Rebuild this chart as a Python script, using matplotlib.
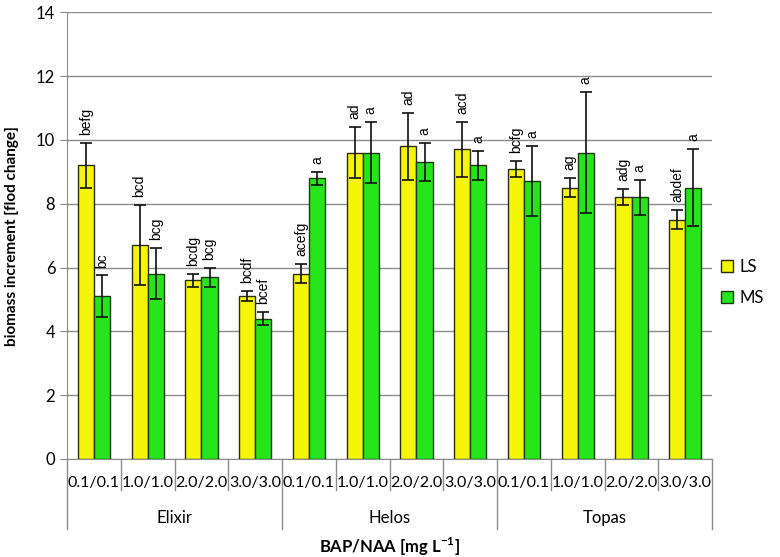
import matplotlib
matplotlib.use("Agg")
import matplotlib.pyplot as plt
import numpy as np
from matplotlib.patches import Patch

cultivars = ["Elixir", "Helos", "Topas"]
doses = ["0.1/0.1", "1.0/1.0", "2.0/2.0", "3.0/3.0"]

ls_vals = [9.2, 6.7, 5.6, 5.1, 5.8, 9.6, 9.8, 9.7, 9.1, 8.5, 8.2, 7.5]
ls_err = [0.7, 1.25, 0.2, 0.15, 0.3, 0.8, 1.05, 0.85, 0.25, 0.3, 0.25, 0.3]
ms_vals = [5.1, 5.8, 5.7, 4.4, 8.8, 9.6, 9.3, 9.2, 8.7, 9.6, 8.2, 8.5]
ms_err = [0.65, 0.8, 0.3, 0.2, 0.2, 0.95, 0.6, 0.45, 1.1, 1.9, 0.55, 1.2]
ls_letters = ["befg", "bcd", "bcdg", "bcdf", "acefg", "ad", "ad", "acd",
              "bcfg", "ag", "adg", "abdef"]
ms_letters = ["bc", "bcg", "bcg", "bcef", "a", "a", "a", "a",
              "a", "a", "a", "a"]

yellow = "#f5f50a"
green = "#27e51b"
grid_col = "#8c8c8c"

fig = plt.figure(figsize=(7.8, 5.57), dpi=100)
ax = fig.add_axes([0.086, 0.176, 0.827, 0.802])

x = np.arange(len(ls_vals))
w = 0.3
ax.bar(x - w / 2, ls_vals, w, color=yellow, edgecolor="#2b2b10", linewidth=1.0, zorder=3)
ax.bar(x + w / 2, ms_vals, w, color=green, edgecolor="#1c3a10", linewidth=1.0, zorder=3)
ax.errorbar(x - w / 2, ls_vals, yerr=ls_err, fmt="none", ecolor="#111111",
            elinewidth=1.2, capsize=4, capthick=1.2, zorder=4)
ax.errorbar(x + w / 2, ms_vals, yerr=ms_err, fmt="none", ecolor="#111111",
            elinewidth=1.2, capsize=4, capthick=1.2, zorder=4)

for i in range(len(x)):
    ax.text(x[i] - w / 2, ls_vals[i] + ls_err[i] + 0.25, ls_letters[i], rotation=90,
            ha="center", va="bottom", fontsize=10, family="Liberation Sans", zorder=5)
    ax.text(x[i] + w / 2, ms_vals[i] + ms_err[i] + 0.25, ms_letters[i], rotation=90,
            ha="center", va="bottom", fontsize=10, family="Liberation Sans", zorder=5)

ax.set_xlim(-0.5, len(x) - 0.5)
ax.set_ylim(0, 14)
ax.set_yticks(range(0, 15, 2))
ax.yaxis.grid(True, color=grid_col, linewidth=1.0, zorder=0)
ax.set_axisbelow(True)
for s in ["top", "right"]:
    ax.spines[s].set_visible(False)
ax.spines["left"].set_color(grid_col)
ax.spines["bottom"].set_color(grid_col)
ax.tick_params(axis="y", colors=grid_col, labelcolor="black", labelsize=12, length=5)
ax.set_xticks([])
for lab in ax.get_yticklabels():
    lab.set_family("Lato")

ax.set_ylabel("biomass increment [flod change]", fontsize=11, fontweight="bold",
              family="Lato", labelpad=12)

# category axis with two label rows
trans = ax.get_xaxis_transform()
for k in range(len(x) + 1):
    depth = -0.157 if k % 4 == 0 else -0.07
    ax.plot([k - 0.5, k - 0.5], [0, depth], color=grid_col, lw=1.0,
            transform=trans, clip_on=False)
for i in range(len(x)):
    ax.text(x[i], -0.054, doses[i % 4], transform=trans, ha="center", va="center",
            fontsize=11.5, family="Lato")
for g, name in enumerate(cultivars):
    ax.text(g * 4 + 1.5, -0.132, name, transform=trans, ha="center", va="center",
            fontsize=12, family="Lato")
ax.text(5.5, -0.197, "BAP/NAA [mg L$^{\\mathregular{-1}}$]", transform=trans, ha="center",
        va="center", fontsize=12, fontweight="bold", family="Lato")

handles = [Patch(facecolor=yellow, edgecolor="#2b2b10", label="LS"),
           Patch(facecolor=green, edgecolor="#1c3a10", label="MS")]
leg = fig.legend(handles=handles, loc="center left", bbox_to_anchor=(0.905, 0.493),
                 frameon=False, prop={"family": "Lato", "size": 12},
                 handlelength=0.7, handleheight=0.7, handletextpad=0.4, labelspacing=0.9)

fig.savefig("out.png", dpi=100)
